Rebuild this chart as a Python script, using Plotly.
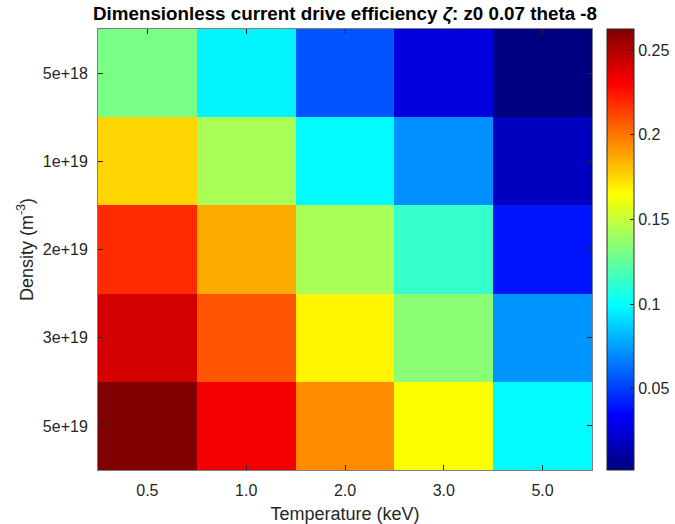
import plotly.graph_objects as go

temperatures = ["0.5", "1.0", "2.0", "3.0", "5.0"]
densities = ["5e+18", "1e+19", "2e+19", "3e+19", "5e+19"]
# zeta values, rows = densities, cols = temperatures
zeta = [
    [0.1306, 0.0971, 0.0563, 0.0265, 0.0021],
    [0.1755, 0.1431, 0.0990, 0.0714, 0.0184],
    [0.2192, 0.1865, 0.1431, 0.1133, 0.0400],
    [0.2406, 0.2082, 0.1674, 0.1349, 0.0726],
    [0.2624, 0.2325, 0.1941, 0.1645, 0.0990],
]
cbar_ticks = [0.05, 0.1, 0.15, 0.2, 0.25]
cbar_labels = ["0.05", "0.1", "0.15", "0.2", "0.25"]

jet = [
    [0.0, "rgb(0,0,128)"],
    [0.125, "rgb(0,0,255)"],
    [0.375, "rgb(0,255,255)"],
    [0.625, "rgb(255,255,0)"],
    [0.875, "rgb(255,0,0)"],
    [1.0, "rgb(128,0,0)"],
]

L, R, T, B = 98, 83, 29, 54
W, H = 675, 524
pw = W - L - R
FONT = "Liberation Sans, Arial, sans-serif"

fig = go.Figure(
    go.Heatmap(
        x=temperatures,
        y=densities,
        z=zeta,
        colorscale=jet,
        zmin=min(min(r) for r in zeta),
        zmax=max(max(r) for r in zeta),
        colorbar=dict(
            x=(607 - L) / pw,
            xanchor="left",
            xpad=0,
            y=0.5,
            yanchor="middle",
            len=1,
            lenmode="fraction",
            ypad=0,
            thickness=27,
            thicknessmode="pixels",
            outlinecolor="#262626",
            outlinewidth=1,
            tickvals=cbar_ticks,
            ticktext=cbar_labels,
            ticks="inside",
            ticklen=4,
            tickcolor="#262626",
            tickfont=dict(family=FONT, size=16, color="#262626"),
        ),
        hoverinfo="x+y+z",
    )
)

axis_font = dict(family=FONT, size=16, color="#262626")
fig.update_layout(
    width=W,
    height=H,
    margin=dict(l=L, r=R, t=T, b=B, autoexpand=False),
    paper_bgcolor="white",
    plot_bgcolor="white",
    title=dict(
        text="<b>Dimensionless current drive efficiency <i>ζ</i>: z0 0.07 theta -8</b>",
        x=(L + pw / 2) / W,
        xanchor="center",
        y=1 - 13 / H,
        yanchor="middle",
        font=dict(family=FONT, size=18.8, color="black"),
    ),
    xaxis=dict(
        categoryorder="array",
        categoryarray=temperatures,
        ticks="inside",
        ticklen=5,
        tickcolor="#262626",
        showline=True,
        linecolor="#808080",
        linewidth=1,
        mirror="ticks",
        tickfont=axis_font,
        ticklabelstandoff=6,
        title=dict(text="Temperature (keV)", font=dict(family=FONT, size=18, color="#262626"), standoff=12),
        showgrid=False,
        zeroline=False,
    ),
    yaxis=dict(
        categoryorder="array",
        categoryarray=densities,
        autorange="reversed",
        ticks="inside",
        ticklen=5,
        tickcolor="#262626",
        showline=True,
        linecolor="#808080",
        linewidth=1,
        mirror="ticks",
        tickfont=axis_font,
        ticklabelstandoff=6,
        title=dict(text="Density (m<sup>-3</sup>)", font=dict(family=FONT, size=18, color="#262626"), standoff=4),
        showgrid=False,
        zeroline=False,
    ),
)

fig.write_html("out.html")
